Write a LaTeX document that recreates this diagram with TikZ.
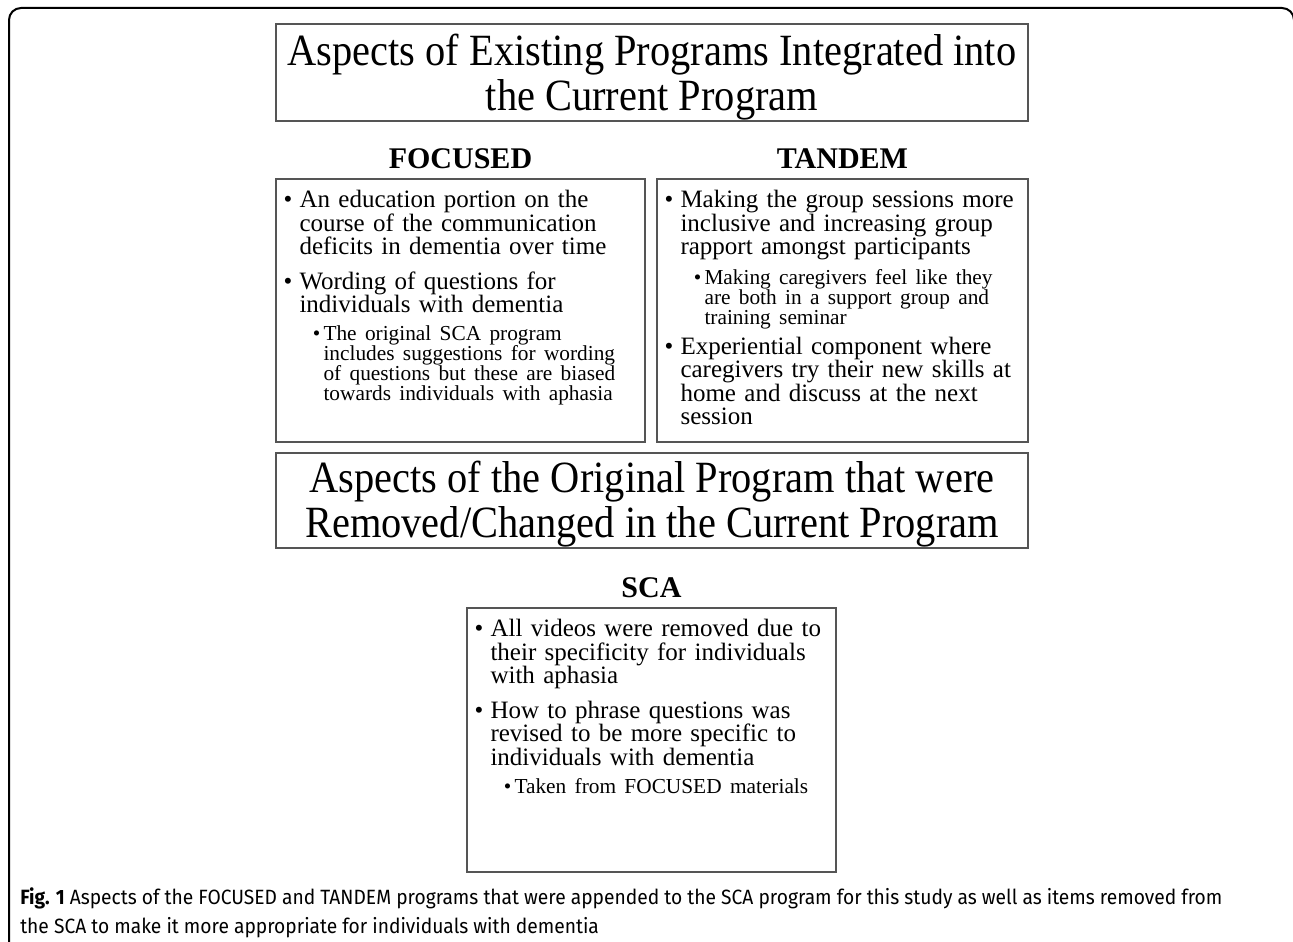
\documentclass[tikz,border=0pt]{standalone}
\usepackage{fontspec}
\setmainfont{Liberation Serif}
\newfontfamily\narrowfont[FakeStretch=0.905]{Liberation Serif}
\newfontfamily\captionfont[FakeStretch=0.93]{Fira Sans}
\usetikzlibrary{positioning}

\definecolor{framegray}{RGB}{85,85,85}

\newcommand{\mainpoint}[1]{\par\parskip=0pt\hangindent=12pt\hangafter=1\noindent\makebox[12pt][l]{\textbullet}#1\par}
\newcommand{\subpoint}[1]{\par{\fontsize{16pt}{15pt}\selectfont\leftskip=22pt\hangindent=8pt\hangafter=1\noindent\makebox[8pt][l]{\textbullet}#1\par}}

\begin{document}
\begin{tikzpicture}[x=0.75pt,y=-0.75pt,
        panel/.style={draw=framegray,line width=1.1pt,inner sep=0pt},
        banner/.style={inner sep=0pt,align=center,font=\narrowfont\fontsize{33.5pt}{33.75pt}\selectfont},
        heading/.style={inner sep=0pt,font=\fontsize{22.5pt}{24pt}\selectfont\bfseries},
        body/.style={anchor=north west,inner xsep=6pt,inner ysep=4.2pt,text width=272pt,align=left,
            font=\fontsize{18.75pt}{17.6pt}\selectfont}
    ]
    \useasboundingbox (0,0) rectangle (1293,942);
    \draw[line width=1.5pt,rounded corners=9pt] (9,950) -- (9,8) -- (1294,8) -- (1294,950);

    \node[panel,minimum width=564pt,minimum height=72.75pt] (existing) at (652,72.5) {};
    \node[banner] (existingtext) at ([yshift=-3.75pt]existing.center)
        {Aspects of Existing Programs Integrated into\\the Current Program};

    \node[panel,minimum width=276.75pt,minimum height=197.25pt] (focbox) at (460.5,310.5) {};
    \node[panel,minimum width=278.25pt,minimum height=197.25pt] (tanbox) at (842.5,310.5) {};
    \node[heading,above=6.75pt of focbox] (focused) {FOCUSED};
    \node[heading,above=6.75pt of tanbox] (tandem) {TANDEM};

    \node[body] (foctext) at (focbox.north west) {%
        \mainpoint{An education portion on the\newline course of the communication\newline deficits in dementia over time}
        \vspace{8.4pt}
        \mainpoint{Wording of questions for\newline individuals with dementia}
        \vspace{6pt}
        \subpoint{The original SCA program\newline includes suggestions for wording\newline of questions but these are biased\newline towards individuals with aphasia}};
    \node[body] (tantext) at (tanbox.north west) {%
        \mainpoint{Making the group sessions more\newline inclusive and increasing group\newline rapport amongst participants}
        \vspace{6pt}
        \subpoint{Making caregivers feel like they\newline are both in a support group and\newline training seminar}
        \vspace{5pt}
        \mainpoint{Experiential component where\newline caregivers try their new skills at\newline home and discuss at the next\newline session}};

    \node[panel,minimum width=564pt,minimum height=71.25pt] (removed) at (652,500.5) {};
    \node[banner] (removedtext) at ([yshift=-3pt]removed.center)
        {Aspects of the Original Program that were\\Removed/Changed in the Current Program};

    \node[panel,minimum width=276.75pt,minimum height=198pt] (scabox) at (651.5,740) {};
    \node[heading,above=6.75pt of scabox] (sca) {SCA};
    \node[body] (scatext) at (scabox.north west) {%
        \mainpoint{All videos were removed due to\newline their specificity for individuals\newline with aphasia}
        \vspace{8.4pt}
        \mainpoint{How to phrase questions was\newline revised to be more specific to\newline individuals with dementia}
        \vspace{6pt}
        \subpoint{Taken from FOCUSED materials}};

    \node[anchor=west,align=left,inner sep=0pt,font=\captionfont\fontsize{15.5pt}{21.75pt}\selectfont] (caption) at (20,913)
        {{\bfseries Fig. 1} Aspects of the FOCUSED and TANDEM programs that were appended to the SCA program for this study as well as items removed from\\the SCA to make it more appropriate for individuals with dementia};
\end{tikzpicture}
\end{document}
